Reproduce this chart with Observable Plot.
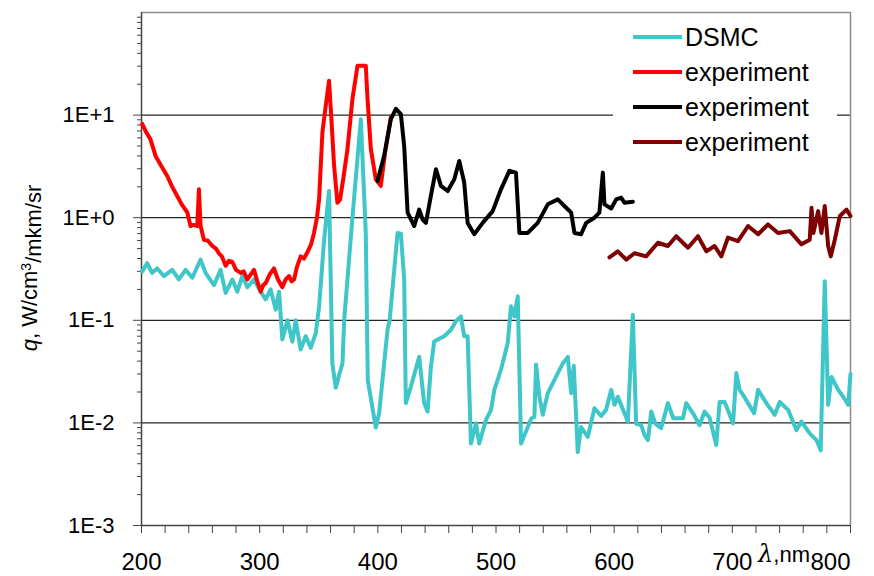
<!DOCTYPE html>
<html><head><meta charset="utf-8">
<script src="https://cdn.jsdelivr.net/npm/d3@7"></script>
<script src="https://cdn.jsdelivr.net/npm/@observablehq/plot@0.6"></script>
<style>body{margin:0;background:#fff;} #chart{width:874px;height:576px;}</style>
</head><body><div id="chart"></div>
<script>
// ---- DSMC (cyan) ----
const dsmcWl = [200.6,204.8,209,213.3,218.9,226,231.6,237.3,243,250,254.2,261.3,266.9,271.2,276.9,281.1,285.3,289.6,295.2,300.8,305.1,309.3,313.6,316.4,319.2,323.5,327.7,330.5,334.7,339,343.2,347.5,350.3,354.5,358.7,361.5,364.4,367.5,370.1,371.5,378.5,385.6,389.8,391.5,398.3,401.1,408.2,410,416.7,419.5,422.3,423.7,428,435,439.2,442.1,444.9,447.7,452,456.2,461.9,466.1,470.3,473.1,476,478.8,483.1,485.8,491.5,495.8,498.6,504.2,509.9,512.7,515.5,518.4,519.8,521.2,526.9,529.7,532.5,533.9,536.7,539.6,543.8,548.1,552.3,556.5,560.8,563.6,565.8,569.2,572,577.7,583.3,589,593.2,597.5,600.3,603.1,608.7,611.6,615.8,618.6,622.9,625.7,628.6,631.4,635,639.8,645.5,650,654,658.2,661,666.7,672.3,676.5,680.8,686.4,689.2,693.5,700.6,703.4,706.2,710,713.3,718.4,721.8,728.8,735.9,740.1,747.2,754.2,758.5,765.5,771.2,774.8,778.2,781.1,783.9,789.6,793.8,798.1,800];
const dsmcQ  = [0.30,0.36,0.29,0.32,0.27,0.31,0.25,0.31,0.26,0.39,0.29,0.22,0.31,0.185,0.25,0.19,0.27,0.21,0.25,0.19,0.16,0.2,0.127,0.19,0.065,0.1,0.062,0.1,0.052,0.07,0.054,0.075,0.137,0.6,1.82,0.038,0.022,0.03,0.038,0.1,1.0,9.1,0.71,0.026,0.009,0.0124,0.081,0.1,0.71,0.70,0.25,0.0156,0.0226,0.044,0.0156,0.0129,0.035,0.062,0.066,0.07,0.081,0.098,0.109,0.07,0.07,0.0063,0.0099,0.0063,0.0107,0.0134,0.021,0.033,0.06,0.137,0.109,0.171,0.033,0.0063,0.0091,0.011,0.0115,0.037,0.018,0.012,0.0195,0.0244,0.0306,0.038,0.044,0.0195,0.036,0.0052,0.0091,0.0073,0.0139,0.0117,0.0134,0.021,0.015,0.018,0.0124,0.0103,0.113,0.0098,0.0095,0.0076,0.0068,0.0129,0.0098,0.0089,0.0156,0.0111,0.0111,0.0111,0.0156,0.0124,0.0095,0.0129,0.0112,0.0061,0.016,0.016,0.0099,0.0306,0.021,0.018,0.0156,0.0124,0.021,0.0156,0.012,0.016,0.0134,0.0085,0.0103,0.0079,0.0068,0.0054,0.24,0.015,0.028,0.021,0.018,0.015,0.03];

// ---- experiment (red) ----
const redWl = [200.6,204,207.6,211.9,216,221.8,226,230.2,234,238.7,241.5,244,247.2,248.6,250,252.8,256,259.9,263,265.5,268,271.2,274,276.9,280,283.9,286.5,289.6,292.5,295.2,298,300.8,303,305.1,308.5,312.1,315.5,319.2,322,324.8,327,329.1,331.5,334.7,337.5,340.4,343.5,346,348.5,350.3,353.1,355.9,358.7,360.2,363,365.8,368,371,374.3,378.5,382.8,389.8,391.3,394.1,398.3,402.5,406,411];
const redQ  = [8.2,6.8,5.8,4.0,3.3,2.55,2.0,1.63,1.35,1.13,0.83,0.85,0.83,1.89,0.83,0.61,0.6,0.53,0.5,0.45,0.42,0.34,0.38,0.37,0.31,0.29,0.3,0.25,0.28,0.31,0.24,0.19,0.22,0.23,0.28,0.32,0.25,0.21,0.25,0.27,0.24,0.25,0.33,0.42,0.4,0.46,0.55,0.71,1.0,1.51,6.8,12.3,21.6,11.5,3.2,1.4,1.5,2.5,4.66,14.3,30.3,30.3,14.3,4.66,2.37,2.04,4.2,9.5];

// ---- experiment (black) ----
const blackWl = [399.7,405.3,411,415.3,419.5,422.3,425.2,430.8,435,437.9,440.7,444.9,449.2,453.4,459.1,464.7,468.9,473.1,476,481.6,488.7,497.2,504.2,511.3,516.9,519.8,526.9,535.3,543.8,552.3,557.9,563.6,566.4,572,576.3,583.3,587.5,590.4,591.8,597.5,601.7,605.9,608.7,615.8];
const blackQ  = [2.28,4.0,9.15,11.5,10.2,5.0,1.12,0.83,1.2,0.96,0.89,1.63,2.97,2.04,1.82,2.37,3.57,2.2,0.89,0.69,0.89,1.16,1.89,2.86,2.75,0.71,0.71,0.89,1.35,1.51,1.3,1.12,0.71,0.69,0.89,1.0,1.12,2.75,1.35,1.23,1.51,1.57,1.4,1.43];

// ---- experiment (dark red) ----
const darkWl = [596,603.1,610.2,617.2,627.1,637,645.5,652.5,662.5,670.9,678,685,690.7,696.3,704.8,713.3,721.8,730.2,738.7,748.6,758.5,765.5,767,768.6,772.6,775.4,778.2,781.1,783.3,786.7,791,796.6,800];
const darkQ  = [0.41,0.47,0.39,0.45,0.42,0.57,0.53,0.66,0.51,0.66,0.47,0.53,0.42,0.64,0.59,0.83,0.69,0.86,0.71,0.74,0.55,0.61,1.25,0.71,1.16,0.71,1.3,0.53,0.42,0.61,1.04,1.2,1.04];

// ---- axes / legend text ----
const yDecades = [1e-3, 1e-2, 1e-1, 1, 10];
const yTickLabels = ["1E-3", "1E-2", "1E-1", "1E+0", "1E+1"];
const xTicks = [200, 300, 400, 500, 600, 700];
const xTickLabels = ["200", "300", "400", "500", "600", "700"];
const xEndTick = 800;
const xEndLabel = "800";
const seriesNames = ["DSMC", "experiment", "experiment", "experiment"];
const seriesColors = ["#3ec6c8", "#ff0000", "#000000", "#7f0000"];

const rows = (wl, q) => wl.map((x, i) => ({x, q: q[i]}));
const minorY = [];
for (const d of [1e-3, 1e-2, 1e-1, 1, 10]) for (let k = 2; k <= 9; k++) minorY.push(k * d);
const minorX = d3.range(200, 801, 20);

const FONT = "'Liberation Sans', Arial, sans-serif";
const lineOpts = (c) => ({x: "x", y: "q", stroke: c, strokeWidth: 4, strokeLinejoin: "round", strokeLinecap: "round"});

const chart = Plot.plot({
  width: 874, height: 576,
  marginLeft: 141, marginRight: 24, marginTop: 12, marginBottom: 51,
  style: {fontFamily: FONT, color: "#000", background: "#fff"},
  x: {domain: [200, 800]},
  y: {type: "log", domain: [1e-3, 1e2]},
  marks: [
    Plot.gridY([1e-2, 1e-1, 1, 10], {stroke: "#000", strokeOpacity: 0.85, strokeWidth: 1.2}),
    Plot.ruleX([800], {stroke: "#8a8a8a", strokeWidth: 1.5}),
    Plot.ruleY([1e2], {stroke: "#8a8a8a", strokeWidth: 1.5}),
    Plot.axisY({ticks: minorY, tickSize: 4, tickFormat: () => "", stroke: "#444", label: null}),
    Plot.axisY({ticks: yDecades, tickSize: 8, tickPadding: 19, stroke: "#444", fontSize: 22,
      tickFormat: (d) => yTickLabels[yDecades.findIndex(v => Math.abs(v - d) / v < 1e-6)], label: null}),
    Plot.axisX({ticks: minorX, tickSize: 8, stroke: "#444", tickFormat: () => "", label: null}),
    Plot.axisX({ticks: xTicks, tickSize: 0, tickPadding: 27, fontSize: 24,
      tickFormat: (d) => xTickLabels[xTicks.indexOf(d)], label: null}),
    Plot.text([xEndLabel], {x: xEndTick, y: 1e-3, text: d => d, textAnchor: "end", lineAnchor: "top", dy: 27, fontSize: 24}),
    Plot.ruleX([200], {stroke: "#444", strokeWidth: 1.5}),
    Plot.ruleY([1e-3], {stroke: "#444", strokeWidth: 1.5}),
    Plot.line(rows(dsmcWl, dsmcQ), lineOpts(seriesColors[0])),
    Plot.line(rows(redWl, redQ), lineOpts(seriesColors[1])),
    Plot.line(rows(blackWl, blackQ), lineOpts(seriesColors[2])),
    Plot.line(rows(darkWl, darkQ), lineOpts(seriesColors[3]))
  ]
});
document.getElementById("chart").appendChild(chart);

const svg = d3.select(chart);
// y-axis title
const yt = svg.append("text")
  .attr("transform", "translate(37,268) rotate(-90)")
  .attr("text-anchor", "middle")
  .style("font-family", FONT).style("font-size", "22px").attr("fill", "#000");
yt.append("tspan").style("font-style", "italic").text("q");
yt.append("tspan").text(", W/cm");
yt.append("tspan").attr("dy", "-0.45em").style("font-size", "14px").text("3");
yt.append("tspan").attr("dy", "0.45em").text("/mkm/sr");

// x-axis title
const xt = svg.append("text")
  .attr("x", 810).attr("y", 562).attr("text-anchor", "end")
  .style("font-family", FONT).style("font-size", "22px").attr("fill", "#000");
xt.append("tspan").style("font-style", "italic").style("font-family", "'DejaVu Serif', serif").style("font-size", "24px").text("λ");
xt.append("tspan").text(",nm");

// legend
const lg = svg.append("g").attr("text-anchor", "start");
lg.append("rect").attr("x", 613).attr("y", 15).attr("width", 224).attr("height", 146).attr("fill", "#fff");
seriesNames.forEach((name, i) => {
  const cy = 37 + i * 35;
  lg.append("line").attr("x1", 633).attr("x2", 682).attr("y1", cy).attr("y2", cy)
    .attr("stroke", seriesColors[i]).attr("stroke-width", 4);
  lg.append("text").attr("x", 685).attr("y", cy).attr("dy", "0.36em").attr("text-anchor", "start")
    .style("font-family", FONT).style("font-size", "25px").attr("fill", "#000").text(name);
});
</script></body></html>
